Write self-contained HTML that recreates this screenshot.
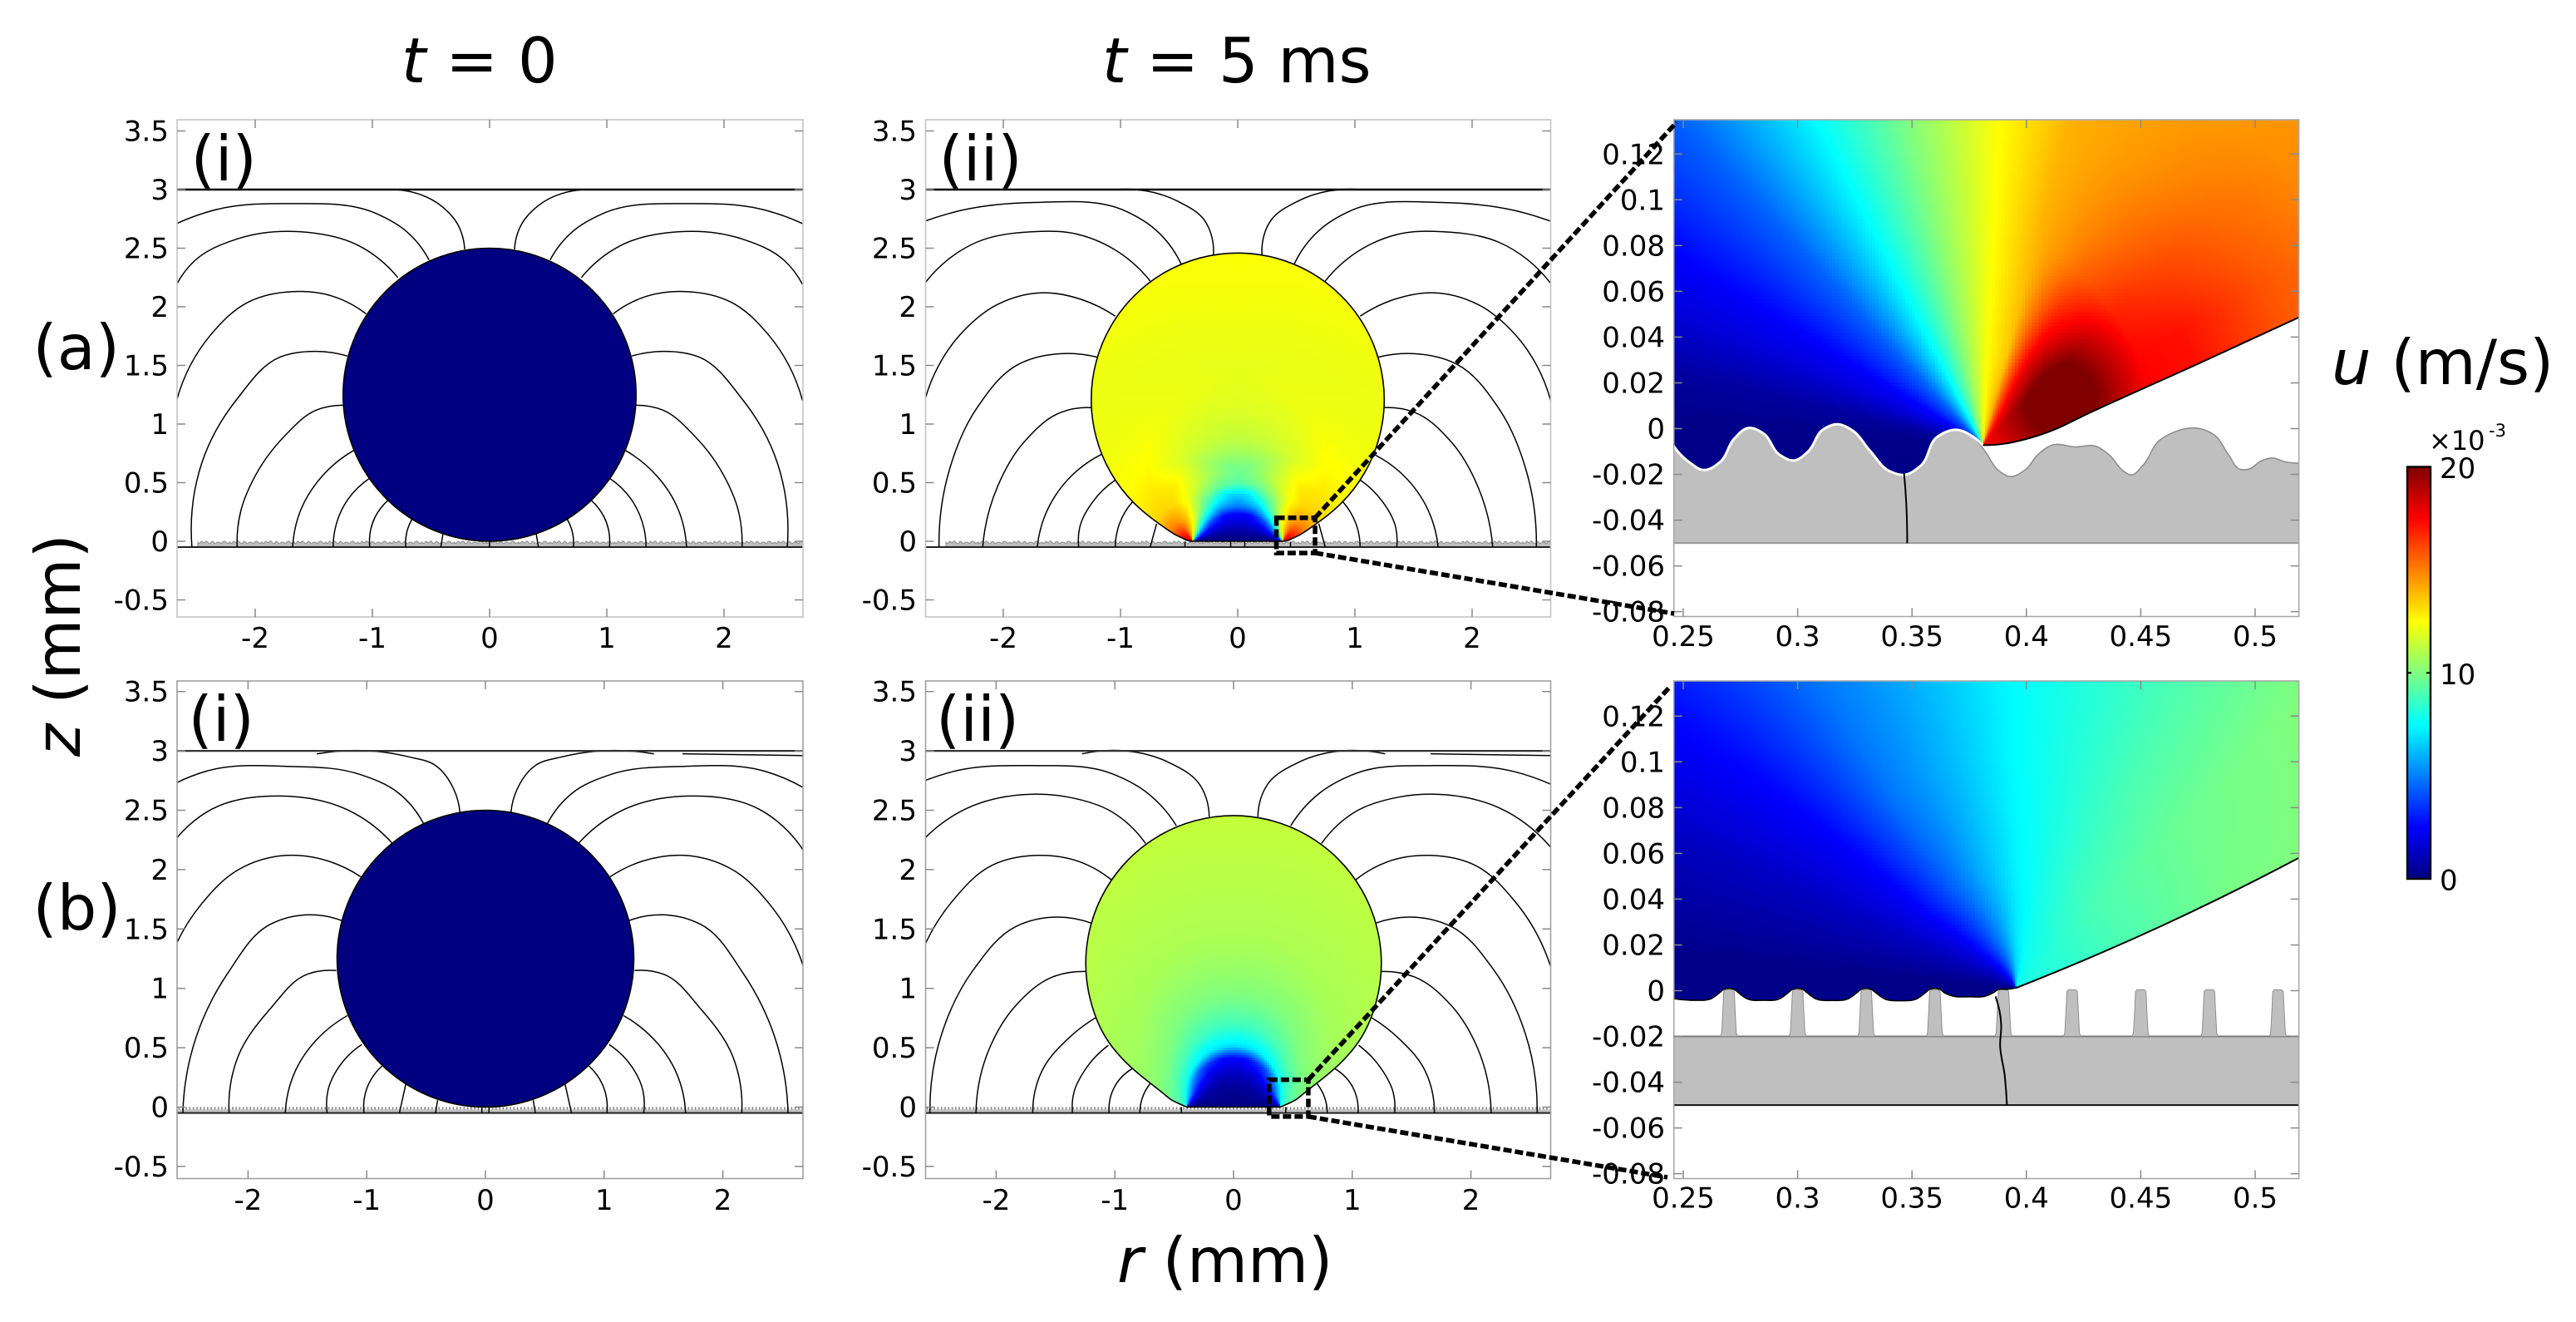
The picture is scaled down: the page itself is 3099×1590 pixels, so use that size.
<!DOCTYPE html>
<html lang="en">
<head>
<meta charset="utf-8">
<title>Droplet velocity field on rough and pillared surfaces</title>
<style>
html,body{margin:0;padding:0;background:#fff;}
svg{display:block;font-family:"DejaVu Sans","Liberation Sans",sans-serif;}
.big{font-size:75px;fill:#000;}
</style>
</head>
<body>
<svg id="chart" xmlns="http://www.w3.org/2000/svg" width="3099" height="1590" viewBox="0 0 3099 1590">
<rect x="0" y="0" width="3099" height="1590" fill="#fff"/>
<defs id="defs"></defs>
<g id="panels"></g>
<g id="colorbar"></g>
<text class="big" x="483" y="99"><tspan font-style="italic">t</tspan> = 0</text>
<text class="big" x="1326" y="99"><tspan font-style="italic">t</tspan> = 5 ms</text>
<text class="big" x="1344" y="1542"><tspan font-style="italic">r</tspan> (mm)</text>
<text class="big" transform="translate(96,910) rotate(-90)"><tspan font-style="italic">z</tspan> (mm)</text>
<text class="big" x="39.5" y="444">(a)</text>
<text class="big" x="39.5" y="1118">(b)</text>
<text class="big" x="229.5" y="217">(i)</text>
<text class="big" x="1129.5" y="217">(ii)</text>
<text class="big" x="226.5" y="891">(i)</text>
<text class="big" x="1126" y="891">(ii)</text>
<text class="big" x="2805" y="462"><tspan font-style="italic">u</tspan> (m/s)</text>
<text x="2922" y="541" font-size="32">×10</text>
<text x="2994" y="525" font-size="21">-3</text>
</svg>
<script>
// ---------- tick labels ----------
const mainRTicks = [-2,-1,0,1,2];
const mainZTicks = [3.5,3,2.5,2,1.5,1,0.5,0,-0.5];
const insetRTicks = [0.25,0.3,0.35,0.4,0.45,0.5];
const insetZTicks = [0.12,0.1,0.08,0.06,0.04,0.02,0,-0.02,-0.04,-0.06,-0.08];
const colorbarTicks = [0,10,20];

// ---------- streamlines, mm, flat r,z lists (right half, mirrored to the left) ----------
const streamAi = [
[.213,2.49,.276,2.71,.412,2.86,.842,3.0],
[.516,2.40,.706,2.64,.977,2.80,1.70,2.88,2.33,2.83,2.67,2.71],
[.783,2.25,1.113,2.52,1.61,2.64,2.15,2.58,2.52,2.39,2.67,2.19],
[1.054,1.94,1.339,2.09,1.68,2.13,2.06,2.04,2.38,1.76,2.67,1.20],
[1.213,1.58,1.475,1.62,1.79,1.57,2.15,1.22,2.43,.74,2.516,.43,2.54,-.05],
[1.25,1.16,1.475,1.12,1.747,.90,2.02,.52,2.12,.27,2.154,-.05],
[1.158,.775,1.43,.554,1.61,.27,1.68,-.05],
[1.023,.538,1.204,.364,1.317,.11,1.335,-.05],
[.869,.348,.977,.206,1.023,-.05],
[.661,.19,.706,.08,.715,-.05],
[.398,.063,.416,-.05],
[0,0,0,-.05]];
const streamAii = [
[.208,2.44,.285,2.74,.511,2.90,1.054,3.0],
[.48,2.36,.692,2.65,.964,2.82,1.733,2.89,2.37,2.82,2.67,2.73],
[.747,2.22,1.054,2.49,1.371,2.62,1.756,2.64,2.23,2.55,2.67,2.20],
[1.045,1.92,1.326,2.06,1.665,2.12,2.05,2.02,2.37,1.76,2.67,1.20],
[1.199,1.57,1.507,1.60,1.869,1.51,2.23,1.13,2.457,.62,2.548,-.05],
[1.249,1.14,1.507,1.10,1.824,.845,2.05,.465,2.176,-.05],
[1.145,.75,1.416,.56,1.62,.275,1.71,-.05],
[1.045,.522,1.235,.339,1.348,.117,1.357,-.05],
[.896,.339,1.009,.149,1.045,-.05],
[.692,.149,.747,-.05],
[.45,-.005,.45,-.05],
[.06,0,.06,-.05]];
const streamBi = [
[.215,2.48,.268,2.68,.425,2.88,.648,2.95,1.42,2.975],
[.523,2.39,.738,2.65,1.051,2.80,1.677,2.87,2.348,2.83,2.68,2.69],
[.783,2.22,1.096,2.47,1.722,2.62,2.303,2.51,2.68,2.16],
[1.051,1.94,1.319,2.07,1.677,2.12,2.08,2.0,2.393,1.71,2.68,1.18],
[1.208,1.57,1.476,1.62,1.811,1.54,2.169,1.13,2.437,.59,2.549,-.05],
[1.257,1.15,1.498,1.12,1.811,.83,2.08,.436,2.16,-.05],
[1.163,.77,1.431,.558,1.61,.285,1.686,-.05],
[1.042,.527,1.23,.345,1.328,.133,1.333,-.05],
[.872,.345,.984,.194,1.024,-.05],
[.671,.194,.725,-.05],
[.403,.058,.42,-.05],
[.03,0,.03,-.05]];
const streamBii = [
[.205,2.445,.295,2.73,.54,2.90,1.277,2.975],
[.482,2.37,.719,2.64,1.031,2.81,1.70,2.876,2.37,2.824,2.67,2.72],
[.741,2.22,1.031,2.49,1.388,2.61,1.79,2.63,2.237,2.52,2.67,2.19],
[1.031,1.915,1.30,2.067,1.656,2.12,2.036,2.036,2.37,1.733,2.67,1.188],
[1.20,1.55,1.478,1.60,1.835,1.52,2.19,1.158,2.46,.612,2.558,-.05],
[1.246,1.142,1.522,1.097,1.835,.855,2.058,.49,2.17,-.05],
[1.143,.764,1.388,.582,1.612,.309,1.692,-.05],
[1.054,.521,1.254,.309,1.344,.127,1.357,-.05],
[.853,.324,1.009,.158,1.049,-.05],
[.70,.2,.76,.1,.79,-.05],
[.44,0,.44,-.05]];

// ---------- droplet outlines at t = 5 ms (right half, mm) ----------
const dropAiiR = [.381,.4237,.4759,.5193,.59,.67,.77,.884,1.0825,1.2074,1.25,1.2074,1.0825,.884,.625,.3235,0];
const dropAiiZ = [0,.006,.029,.0487,.093,.149,.224,.325,.584,.8855,1.209,1.5325,1.834,2.093,2.292,2.416,2.459];
const dropBiiR = [.3955,.4595,.519,.6,.70,.80,.89,1.078,1.2026,1.245,1.2026,1.078,.88,.6225,.322,0];
const dropBiiZ = [.001,.0285,.058,.122,.2,.28,.36,.5875,.888,1.21,1.532,1.8325,2.09,2.288,2.4126,2.455];

// ---------- droplet velocity u (mm/s): rows = angle subtended by the wetted
//            disc (deg), columns = distance to the nearest contact line (mm) ----------
const dropSubtended = [0,15,30,45,60,75,87,103,117,135,148,165,180];
const dropContactDist = [.02,.1,.2,.35,.5,.7,1,1.5,2.6];
const dropFieldA = [
[18,17,15,13,12.6,12.3,12.2,12.2,12.5],
[18,17,15,13.2,12.8,12.4,12.2,12.2,12.5],
[18,17,15,13.4,13,12.6,12.3,12,12.4],
[18,16.5,14.5,13.2,12.8,11.6,11.4,11.4,11.4],
[16,15,13.8,12.2,11.5,10,10,10,10],
[14,13.5,12.2,10.2,9.5,9,9,9,9],
[12.5,12,10.5,8.5,6.8,6.8,6.8,6.8,6.8],
[10,9.5,7.5,5.5,5,5,5,5,5],
[7.5,6.5,4.5,2.6,2.5,2.5,2.5,2.5,2.5],
[4.5,3.5,2.2,1.7,1.7,1.7,1.7,1.7,1.7],
[2.5,2,1.4,1,1,1,1,1,1],
[.5,.4,.3,.3,.3,.3,.3,.3,.3],
[.1,.1,.1,.1,.1,.1,.1,.1,.1]];
const dropFieldB = [
[8.5,9.5,10,10.5,10.6,10.8,11,11.2,11.5],
[8.5,9.5,10,10.5,10.6,10.8,11,11.2,11.5],
[8.5,9.3,9.8,10.3,10.5,10.7,10.8,10.9,11],
[8.5,9,9.5,9.9,10.1,10,10,10.2,10.2],
[8.4,8.6,8.8,9,8.9,8.7,8.7,8.7,8.7],
[8,8,8,7.6,7,6.9,6.9,6.9,6.9],
[7,6.8,5.8,3.8,2.6,2.5,2.5,2.5,2.5],
[5.5,5,3.2,1.8,1.5,1.5,1.5,1.5,1.5],
[3.8,3,1.8,1,1,1,1,1,1],
[2,1.5,.8,.5,.5,.5,.5,.5,.5],
[1,.8,.5,.3,.3,.3,.3,.3,.3],
[.4,.3,.2,.2,.2,.2,.2,.2,.2],
[.1,.1,.1,.1,.1,.1,.1,.1,.1]];

// ---------- inset (a): velocity u on angle/distance about the contact line ----------
const insetAAngles = [-100,-85,-77,-66,-58,-43,-27,-13,3,15,30,45,60,78,100];
const insetADist = [.004,.02,.04,.07,.1,.14,.18,.24];
const insetAField = [
[.15,.15,.15,.15,.15,.15,.15,.15],
[.2,.2,.2,.2,.2,.2,.2,.2],
[.6,.6,.6,.6,.6,.6,.6,.6],
[1.8,1.8,1.8,1.8,1.8,1.8,1.8,1.8],
[2.5,2.5,2.5,2.5,2.5,2.5,2.5,2.5],
[4.4,4.4,4.4,4.4,4.4,4.4,4.4,4.4],
[7.5,7.5,7.5,7.5,7.5,7.5,7.5,7.5],
[10,10,10,10,10,10,10,10],
[12.5,12.5,12.5,12.5,12.5,12.5,12.5,12.5],
[14,14,13.6,13.8,14,14,14,14],
[16,16.5,16.8,16,15.2,14.6,14.3,14.2],
[17.5,17.8,17.8,17.2,16.3,15.4,14.7,14.4],
[18,18,18,17.5,17.2,15.9,15,14.8],
[18,18,18,17.8,17.2,15.8,15,14.8],
[18,18,18,17.8,17.2,15.8,15,14.8]];
const hotSpotAR = 0.415;
const hotSpotAZ = 0.013;
const hotSpotPeak = 21.8;
const hotSpotFall = 114;
const surfaceAR = [.2458,.2525,.2592,.2661,.2723,.2786,.2849,.2922,.2984,.3047,.3110,.3172,.3235,.3318,.3402,.3465,.3538,.3611,.3694,.3767,.3819,.3882,.3924,.3997,.4049,.4112,.4216,.4300,.4362,.4425,.4456,.4508,.4581,.4634,.4759,.4822,.4884,.4936,.4968,.5030,.5072,.5134,.5193];
const surfaceAZ = [-.0076,-.0146,-.0181,-.0146,-.0044,.0003,-.0020,-.0115,-.0139,-.0099,-.0005,.0019,-.0005,-.0099,-.0186,-.0202,-.0162,-.0036,-.0005,-.0036,-.0099,-.0186,-.0209,-.0178,-.0115,-.0072,-.0080,-.0076,-.0115,-.0186,-.0202,-.0162,-.0052,-.0020,0,-.0028,-.0115,-.0178,-.0178,-.0139,-.0128,-.0146,-.0151];
const interfaceAR = [.3809,.384,.4049,.4133,.4237,.4759,.5193];
const interfaceAZ = [-.0072,-.0072,-.0031,0,.005,.0287,.0487];
const streamInsetAR = [.3465,.3475,.3479];
const streamInsetAZ = [-.0194,-.0328,-.0501];

// ---------- inset (b) ----------
const insetBAngles = [-100,-84,-67,-50,-33,-18,0,15,30,45,65,90];
const insetBDist = [.004,.02,.05,.1,.2];
const insetBField = [
[.15,.15,.15,.15,.15],
[.2,.2,.2,.2,.2],
[.8,1,1.2,1.2,1.2],
[1.5,2,2.5,2.5,2.8],
[2.5,3.5,4.3,4.8,4.8],
[4,5,5.8,6,6],
[6.5,7,7.3,7.5,7.5],
[7.5,7.8,8,8.2,8.4],
[7.8,8,8.6,9,9.3],
[8,8.2,9,9.6,10.2],
[8,8.3,9,9.8,10.4],
[8,8.3,9,9.8,10.4]];
const meniscusBR = [.2459,.255,.262,.266,.2675,.2725,.274,.278,.285,.292,.296,.2975,.3025,.304,.308,.315,.322,.326,.3275,.3325,.334,.338,.345,.352,.356,.3575,.3625,.364,.368,.375,.382,.386,.3875,.392,.3955];
const meniscusBZ = [-.0035,-.0042,-.0036,-.0008,.0004,.0004,-.0008,-.0036,-.0042,-.0036,-.0008,.0004,.0004,-.0008,-.0036,-.0043,-.0036,-.0008,.0004,.0004,-.0008,-.0036,-.0044,-.0036,-.0008,.0004,.0004,-.0008,-.0024,-.0027,-.0024,-.0006,.0004,.0006,.0012];
const interfaceBR = [.3955,.4595,.519];
const interfaceBZ = [.0012,.0285,.058];
const pillarCentersB = [.27,.30,.33,.36,.39,.42,.45,.48,.51];
const pillarOffset = [-.0038,-.0032,-.0027,-.0023,-.0016,.0016,.0023,.0027,.0032,.0038];
const pillarHeight = [-.02,-.0185,-.009,-.0004,.0004,.0004,-.0004,-.009,-.0185,-.02];
const streamInsetBR = [.3865,.389,.3885,.3905,.3915];
const streamInsetBZ = [-.0025,-.015,-.024,-.037,-.0501];

// ---------- helpers ----------
const NS = 'http://www.w3.org/2000/svg';
const svg = document.getElementById('chart');
const defs = document.getElementById('defs');
const panelsRoot = document.getElementById('panels');
function mk(tag, attrs, parent){
  const e = document.createElementNS(NS, tag);
  for (const k in attrs) e.setAttribute(k, attrs[k]);
  parent.appendChild(e);
  return e;
}
function clamp(v){ return Math.max(0, Math.min(1, v)); }
function jet(v){
  v = clamp(v);
  const r = clamp(Math.min(4*v-1.5, -4*v+4.5));
  const g = clamp(Math.min(4*v-0.5, -4*v+3.5));
  const b = clamp(Math.min(4*v+0.5, -4*v+2.5));
  return 'rgb(' + Math.round(r*255) + ',' + Math.round(g*255) + ',' + Math.round(b*255) + ')';
}
function idx(arr, v){
  if (v <= arr[0]) return [0, 0, 0];
  for (let i = 0; i < arr.length-1; i++){
    if (v <= arr[i+1]) return [i, i+1, (v-arr[i])/(arr[i+1]-arr[i])];
  }
  return [arr.length-1, arr.length-1, 0];
}
function lookup(rows, cols, table, rowV, colV){
  const a = idx(rows, rowV), b = idx(cols, colV);
  const p = table[a[0]][b[0]]*(1-b[2]) + table[a[0]][b[1]]*b[2];
  const q = table[a[1]][b[0]]*(1-b[2]) + table[a[1]][b[1]]*b[2];
  return p*(1-a[2]) + q*a[2];
}
// Spline with chord-weighted tangents, so uneven point spacing stays round.
function curve(pts){
  const n = pts.length;
  if (n < 2) return '';
  function unit(v){ const l = Math.hypot(v[0], v[1]) || 1; return [v[0]/l, v[1]/l]; }
  const tan = [];
  for (let i = 1; i < n-1; i++){
    const d1 = Math.hypot(pts[i][0]-pts[i-1][0], pts[i][1]-pts[i-1][1]) || 1;
    const d2 = Math.hypot(pts[i+1][0]-pts[i][0], pts[i+1][1]-pts[i][1]) || 1;
    const v1 = [(pts[i][0]-pts[i-1][0])/d1, (pts[i][1]-pts[i-1][1])/d1];
    const v2 = [(pts[i+1][0]-pts[i][0])/d2, (pts[i+1][1]-pts[i][1])/d2];
    tan[i] = unit([(v1[0]*d2+v2[0]*d1)/(d1+d2), (v1[1]*d2+v2[1]*d1)/(d1+d2)]);
  }
  const vs = unit([pts[1][0]-pts[0][0], pts[1][1]-pts[0][1]]);
  const ve = unit([pts[n-1][0]-pts[n-2][0], pts[n-1][1]-pts[n-2][1]]);
  tan[0] = n > 2 ? unit([2*vs[0]-tan[1][0], 2*vs[1]-tan[1][1]]) : vs;
  tan[n-1] = n > 2 ? unit([2*ve[0]-tan[n-2][0], 2*ve[1]-tan[n-2][1]]) : ve;
  let d = '';
  for (let i = 0; i < n-1; i++){
    const len = Math.hypot(pts[i+1][0]-pts[i][0], pts[i+1][1]-pts[i][1])/3;
    d += 'C' + (pts[i][0]+tan[i][0]*len).toFixed(1) + ' ' + (pts[i][1]+tan[i][1]*len).toFixed(1) + ' '
       + (pts[i+1][0]-tan[i+1][0]*len).toFixed(1) + ' ' + (pts[i+1][1]-tan[i+1][1]*len).toFixed(1) + ' '
       + pts[i+1][0].toFixed(1) + ' ' + pts[i+1][1].toFixed(1);
  }
  return d;
}
function mp(p){ return 'M' + p[0].toFixed(1) + ' ' + p[1].toFixed(1); }
function lp(p){ return 'L' + p[0].toFixed(1) + ' ' + p[1].toFixed(1); }
function addClip(id, d){
  const c = mk('clipPath', {id: id}, defs);
  mk('path', {d: d}, c);
}
function drawFrame(g, f, color, xticks, yticks, X, Y, xFmt, yFmt, labelRight, labelBase){
  const frame = mk('rect', {x:f.x0, y:f.y0, width:f.x1-f.x0, height:f.y1-f.y0, fill:'none', stroke:color, 'stroke-width':1.6}, g);
  
  
  xticks.forEach(function(t){
    const px = X(t);
    const tk = mk('path', {d:'M'+px+' '+f.y0+'v10M'+px+' '+f.y1+'v-10', stroke:'#8a8a8a', 'stroke-width':1.5, fill:'none'}, g);
    
    
    const lb = mk('text', {x:px, y:labelBase, 'text-anchor':'middle', 'font-size':34}, g);
    lb.textContent = xFmt(t);
    
    
  });
  yticks.forEach(function(t){
    const py = Y(t);
    const tk = mk('path', {d:'M'+f.x0+' '+py+'h10M'+f.x1+' '+py+'h-10', stroke:'#8a8a8a', 'stroke-width':1.5, fill:'none'}, g);
    
    
    const lb = mk('text', {x:labelRight, y:py+12, 'text-anchor':'end', 'font-size':34}, g);
    lb.textContent = yFmt(t);
    
    
  });
}

// ---------- main panels ----------
function drawMain(o){
  const g = mk('g', {}, panelsRoot);
  
  
  const X = function(r){ return o.xc + o.s*r; };
  const Y = function(z){ return o.zc - o.s*z; };
  const f = {x0:o.x0, x1:o.x1, y0:o.y0, y1:o.y1};
  addClip('frame-' + o.id, 'M'+f.x0+' '+f.y0+'H'+f.x1+'V'+f.y1+'H'+f.x0+'Z');
  const inner = mk('g', {'clip-path':'url(#frame-'+o.id+')'}, g);
  
  

  // substrate
  const sub = mk('g', {}, inner);
  
  
  if (o.row === 'a'){
    const period = surfaceAR[surfaceAR.length-1] - surfaceAR[0];
    const pts = [];
    for (let k = -10; k < 10; k++){
      for (let i = 0; i < surfaceAR.length; i++){
        pts.push([X(surfaceAR[i] + k*period), Y(surfaceAZ[i])]);
      }
    }
    let d = mp(pts[0]);
    pts.forEach(function(p){ d += lp(p); });
    d += 'V' + Y(-.05) + 'H' + pts[0][0] + 'Z';
    const s = mk('path', {d:d, fill:'#bfbfbf', stroke:'#8a8a8a', 'stroke-width':1}, sub);
    
    
  } else {
    const b = mk('rect', {x:f.x0, y:Y(-.02), width:f.x1-f.x0, height:Y(-.05)-Y(-.02), fill:'#bfbfbf'}, sub);
    
    
    for (let k = -90; k <= 90; k++){
      const p = mk('rect', {x:X(k*.03)-.8, y:Y(.0005), width:1.6, height:Y(-.02)-Y(.0005), fill:'#808080'}, sub);
      
      
    }
  }
  const baseLine = mk('path', {d:'M'+f.x0+' '+Y(-.05)+'H'+f.x1, stroke:'#222', 'stroke-width':2, fill:'none'}, sub);
  
  

  // streamlines
  const sl = mk('g', {fill:'none', stroke:'#000', 'stroke-width':1.5}, inner);
  
  
  o.lines.forEach(function(line){
    [1,-1].forEach(function(sign){
      const pts = [];
      for (let i = 0; i < line.length; i += 2) pts.push([X(sign*line[i]), Y(line[i+1])]);
      const p = mk('path', {d:mp(pts[0]) + curve(pts)}, sl);
      
      
    });
  });
  if (o.row === 'b'){
    const tail = mk('path', {d:'M'+X(1.66)+' '+Y(2.975)+'L'+X(2.68)+' '+Y(2.96)}, sl);
    
    
  }

  // top boundary
  const top = mk('path', {d:'M'+f.x0+' '+Y(3)+'H'+f.x1, stroke:o.row==='a'?'#000':'#333', 'stroke-width':o.row==='a'?2.6:2.2, fill:'none'}, inner);
  
  

  // droplet
  if (o.solid){
    const c = mk('circle', {cx:X(0), cy:Y(1.25), r:o.s*1.25, fill:jet(0), stroke:'#000', 'stroke-width':1.6}, inner);
    
    
  } else {
    const right = o.dropR.map(function(r,i){ return [X(r), Y(o.dropZ[i])]; });
    const zRev = o.dropZ.slice(0,-1).reverse();
    const left = o.dropR.slice(0,-1).reverse().map(function(r,i){ return [X(-r), Y(zRev[i])]; });
    const all = right.concat(left);
    const d = mp(all[0]) + curve(all) + 'Z';
    addClip('drop-' + o.id, d);
    const cells = mk('g', {'clip-path':'url(#drop-'+o.id+')', 'shape-rendering':'crispEdges'}, inner);
    
    
    const R = o.s*1.3;
    const OUT = 6;
    const a = o.dropR[0];
    for (let py = Math.floor(Y(2.55)/OUT)*OUT; py < Y(-.03); py += OUT){
      for (let px = Math.floor((X(0)-R)/OUT)*OUT; px < X(0)+R; px += OUT){
        const zc = (o.zc-py-3)/o.s;
        const n = zc < .3 ? 3 : (zc < 1 ? 2 : 1);
        const st = OUT/n;
        for (let j = 0; j < n; j++){
          for (let i = 0; i < n; i++){
            const x = px + i*st, y = py + j*st;
            const r = Math.abs(x+st/2-o.xc)/o.s, z = Math.max((o.zc-y-st/2)/o.s, .001);
            const subt = Math.atan2(2*a*z, r*r-a*a+z*z)*180/Math.PI;
            const dist = Math.hypot(r-a, z);
            const u = lookup(dropSubtended, dropContactDist, o.table, subt, dist);
            const cell = mk('rect', {x:x, y:y, width:st, height:st, fill:jet(u/20)}, cells);
            
            
          }
        }
      }
    }
    const ol = mk('path', {d:d, fill:'none', stroke:'#000', 'stroke-width':1.6}, inner);
    
    
  }

  drawFrame(g, f, o.frameColor, mainRTicks, mainZTicks, X, Y, String, String, o.labelRight, o.labelBase);
  return {X:X, Y:Y, g:g};
}

// ---------- insets ----------
function drawInset(o){
  const g = mk('g', {}, panelsRoot);
  
  
  const X = function(r){ return 2025 + 2752*(r-.25); };
  const Y = function(z){ return o.z0 - 2752*z; };
  const f = {x0:2013.7, x1:2765.6, y0:o.y0, y1:o.y1};
  addClip('iframe-' + o.id, 'M'+f.x0+' '+f.y0+'H'+f.x1+'V'+f.y1+'H'+f.x0+'Z');
  const inner = mk('g', {'clip-path':'url(#iframe-'+o.id+')'}, g);
  
  

  const ifacePts = o.ifR.map(function(r,i){ return [X(r), Y(o.ifZ[i])]; });
  const wetPts = o.wetR.map(function(r,i){ return [X(r), Y(o.wetZ[i])]; });

  // substrate first
  o.drawSubstrate(inner, X, Y, f);

  // field
  const rev = ifacePts.slice().reverse();
  const wetRev = wetPts.slice().reverse();
  const clipD = 'M'+f.x0+' '+f.y0+'H'+f.x1+lp(rev[0])+curve(rev)+lp(wetRev[0])+curve(wetRev)+'Z';
  addClip('wet-' + o.id, clipD);
  const cells = mk('g', {'clip-path':'url(#wet-'+o.id+')', 'shape-rendering':'crispEdges'}, inner);
  
  
  const OUT = 4;
  const cpx = X(o.cr), cpy = Y(o.cz);
  const x0 = Math.floor(f.x0/OUT)*OUT, y0 = Math.floor(f.y0/OUT)*OUT;
  const yMax = Y(o.zMin);
  for (let py = y0; py < yMax; py += OUT){
    for (let px = x0; px < f.x1; px += OUT){
      const n = Math.hypot(px+2-cpx, py+2-cpy) < 90 ? 2 : 1;
      const st = OUT/n;
      for (let j = 0; j < n; j++){
        for (let i = 0; i < n; i++){
          const x = px+i*st, y = py+j*st;
          const dr = (x+st/2-cpx)/2752, dz = (cpy-y-st/2)/2752;
          const ang = Math.atan2(dr, dz)*180/Math.PI;
          const dist = Math.hypot(dr, dz);
          let u = lookup(o.angles, o.dists, o.field, ang, dist);
          if (o.hot && ang > 15){
            const hd = Math.hypot((x+st/2-X(o.hot[0]))/2752, (y+st/2-Y(o.hot[1]))/2752);
            const h = o.hot[2] - o.hot[3]*hd;
            u = u + clamp((ang-15)/30)*Math.max(0, h-u);
          }
          const cell = mk('rect', {x:x, y:y, width:st, height:st, fill:jet(u/20)}, cells);
          
          
        }
      }
    }
  }
  const ifl = mk('path', {d:mp(ifacePts[0])+curve(ifacePts), fill:'none', stroke:'#000', 'stroke-width':2}, inner);
  
  
  o.drawOver(inner, X, Y, wetPts);

  const sp = o.streamR.map(function(r,i){ return [X(r), Y(o.streamZ[i])]; });
  const s = mk('path', {d:mp(sp[0])+curve(sp), fill:'none', stroke:'#000', 'stroke-width':2}, inner);
  
  

  drawFrame(g, f, '#a8a8a8', insetRTicks, insetZTicks, X, Y, String, String, 2003, o.labelBase);
}

const panelAi = drawMain({id:'a-i', row:'a', solid:true, x0:213, x1:966, y0:144, y1:742, xc:589, zc:651, s:141, lines:streamAi, frameColor:'#c4c4c4', labelRight:203, labelBase:779});
const panelAii = drawMain({id:'a-ii', row:'a', solid:false, x0:1113.5, x1:1865.5, y0:144, y1:742, xc:1489, zc:651, s:141, lines:streamAii, frameColor:'#c4c4c4', dropR:dropAiiR, dropZ:dropAiiZ, table:dropFieldA, labelRight:1103, labelBase:779});
const panelBi = drawMain({id:'b-i', row:'b', solid:true, x0:213, x1:966, y0:819, y1:1417.5, xc:584, zc:1331.5, s:142.8, lines:streamBi, frameColor:'#a0a0a0', labelRight:203, labelBase:1455});
const panelBii = drawMain({id:'b-ii', row:'b', solid:false, x0:1113.5, x1:1865.5, y0:819, y1:1417.5, xc:1484, zc:1331.5, s:142.8, lines:streamBii, frameColor:'#a0a0a0', dropR:dropBiiR, dropZ:dropBiiZ, table:dropFieldB, labelRight:1103, labelBase:1455});

// inset a
const wetAR = [], wetAZ = [];
surfaceAR.forEach(function(r,i){ if (r < .378){ wetAR.push(r); wetAZ.push(surfaceAZ[i]); } });
wetAR.push(interfaceAR[0]); wetAZ.push(interfaceAZ[0]);
drawInset({id:'a', z0:515.5, y0:144, y1:741.5, labelBase:777, cr:interfaceAR[0], cz:interfaceAZ[0], zMin:-.025,
  angles:insetAAngles, dists:insetADist, field:insetAField, hot:[hotSpotAR, hotSpotAZ, hotSpotPeak, hotSpotFall],
  ifR:interfaceAR, ifZ:interfaceAZ, wetR:wetAR, wetZ:wetAZ,
  streamR:streamInsetAR, streamZ:streamInsetAZ,
  drawSubstrate:function(p, X, Y, f){
    const pts = surfaceAR.map(function(r,i){ return [X(r), Y(surfaceAZ[i])]; });
    const d = mp(pts[0])+curve(pts)+'V'+Y(-.05)+'H'+pts[0][0]+'Z';
    const s = mk('path', {d:d, fill:'#bfbfbf'}, p);
    
    
    const top = mk('path', {d:mp(pts[0])+curve(pts), fill:'none', stroke:'#8a8a8a', 'stroke-width':1.5}, p);
    
    
    const b = mk('path', {d:'M'+f.x0+' '+Y(-.05)+'H'+f.x1, stroke:'#999', 'stroke-width':2, fill:'none'}, p);
    
    
  },
  drawOver:function(p, X, Y, wet){
    const rim = mk('path', {d:mp(wet[0])+curve(wet), fill:'none', stroke:'#fff', 'stroke-width':3}, p);
    
    
  }
});

// inset b
drawInset({id:'b', z0:1191.5, y0:819, y1:1417.5, labelBase:1452.5, cr:interfaceBR[0], cz:interfaceBZ[0], zMin:-.006,
  angles:insetBAngles, dists:insetBDist, field:insetBField,
  ifR:interfaceBR, ifZ:interfaceBZ, wetR:meniscusBR, wetZ:meniscusBZ,
  streamR:streamInsetBR, streamZ:streamInsetBZ,
  drawSubstrate:function(p, X, Y, f){
    const b = mk('rect', {x:f.x0, y:Y(-.02), width:f.x1-f.x0, height:Y(-.05)-Y(-.02), fill:'#bfbfbf'}, p);
    
    
    const tl = mk('path', {d:'M'+f.x0+' '+Y(-.02)+'H'+f.x1, stroke:'#7a7a7a', 'stroke-width':2, fill:'none'}, p);
    
    
    const bl = mk('path', {d:'M'+f.x0+' '+Y(-.05)+'H'+f.x1, stroke:'#111', 'stroke-width':2, fill:'none'}, p);
    
    
    pillarCentersB.forEach(function(c){
      const pts = pillarOffset.map(function(dx,i){ return [X(c+dx), Y(pillarHeight[i])]; });
      const pl = mk('path', {d:mp(pts[0])+pts.slice(1).map(lp).join('')+'Z', fill:'#bfbfbf', stroke:'#8f8f8f', 'stroke-width':1, 'stroke-linejoin':'round'}, p);
      
      
    });
  },
  drawOver:function(p, X, Y, wet){
    const men = mk('path', {d:mp(wet[0])+curve(wet), fill:'none', stroke:'#000', 'stroke-width':1.5}, p);
    
    
  }
});

// ---------- zoom connectors ----------
function drawZoom(name, panel, rMin, rMax, zMin, zMax, end1, end2){
  const x0 = panel.X(rMin), x1 = panel.X(rMax), y0 = panel.Y(zMax), y1 = panel.Y(zMin);
  const g = mk('g', {fill:'none', stroke:'#000', 'stroke-width':5.5, 'stroke-dasharray':'10 4'}, panelsRoot);
  
  
  const box = mk('rect', {x:x0, y:y0, width:x1-x0, height:y1-y0}, g);
  
  
  const l1 = mk('path', {d:'M'+x1+' '+y0+'L'+end1[0]+' '+end1[1]}, g);
  
  
  const l2 = mk('path', {d:'M'+x1+' '+y1+'L'+end2[0]+' '+end2[1]}, g);
  
  
}
drawZoom('a', panelAii, .33, .66, -.1, .2, [2017,147], [2014,738]);
drawZoom('b', panelBii, .3, .63, -.08, .23, [2009,826], [2006,1416]);

// ---------- colorbar ----------
(function(){
  const g = document.getElementById('colorbar');
  const top = 561.5, bottom = 1057, left = 2896, right = 2924;
  const CY = function(u){ return bottom - (u/20)*(bottom-top); };
  for (let u = 0; u < 20; u += 0.05){
    const r = mk('rect', {x:left, y:CY(u+0.05), width:right-left, height:CY(u)-CY(u+0.05)+0.6, fill:jet(u/20)}, g);
    
    
  }
  const b = mk('rect', {x:left, y:top, width:right-left, height:bottom-top, fill:'none', stroke:'#000', 'stroke-width':2.4}, g);
  
  
  colorbarTicks.forEach(function(t){
    const y = CY(t);
    if (t > 0 && t < 20){
      const tk = mk('path', {d:'M'+left+' '+y+'h5M'+right+' '+y+'h-5', stroke:'#000', 'stroke-width':2, fill:'none'}, g);
      
      
    }
    const lb = mk('text', {x:2935, y:y+13.5, 'font-size':34}, g);
    lb.textContent = String(t);
    
    
  });
})();
</script>
</body>
</html>
